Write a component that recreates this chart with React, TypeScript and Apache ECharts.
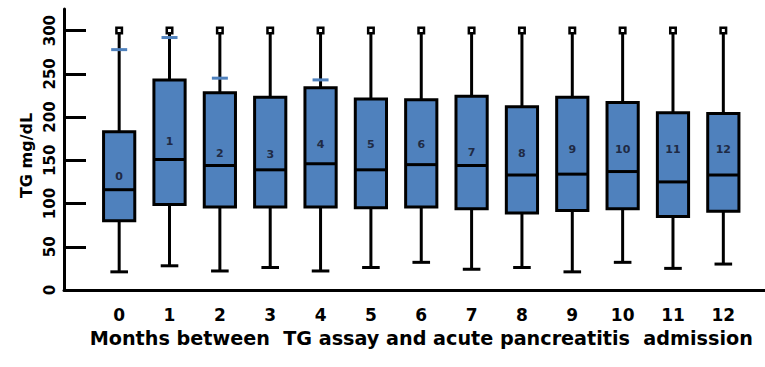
import React, { useEffect, useRef } from "react";
import * as echarts from "echarts";

const categories = ["0", "1", "2", "3", "4", "5", "6", "7", "8", "9", "10", "11", "12"];
const whiskerLow = [21, 28, 22, 26, 22, 26, 32, 24, 26, 21, 32, 25, 30];
const q1 = [80, 99, 96, 96, 96, 95, 96, 94, 89, 92, 94, 85, 91];
const medians = [116, 151, 144, 139, 146, 139, 145, 144, 133, 134, 137, 125, 133];
const q3 = [183, 243, 228, 223, 234, 221, 220, 224, 212, 223, 217, 205, 204];
const outliers = [300, 300, 300, 300, 300, 300, 300, 300, 300, 300, 300, 300, 300];
const blueMarks: (number | null)[] = [278, 292, 245, null, 243, null, null, null, null, null, null, null, null];
const labelLevels = [131, 172, 158, 157, 168, 168, 168, 159, 158, 163, 163, 163, 163];
const yTicks = [0, 50, 100, 150, 200, 250, 300];

const FONT = "'DejaVu Sans', Verdana, sans-serif";
const BLUE = "#4F81BD";
const Y_MAX = 325;

export default function App() {
  const ref = useRef<HTMLDivElement>(null);

  useEffect(() => {
    if (!ref.current) return;
    const chart = echarts.init(ref.current, null, { renderer: "svg" });

    const data = categories.map((_, i) => [
      i,
      whiskerLow[i],
      q1[i],
      medians[i],
      q3[i],
      outliers[i],
      blueMarks[i] == null ? -1 : (blueMarks[i] as number),
      labelLevels[i],
    ]);

    const renderItem = (params: any, api: any) => {
      const x = api.value(0);
      const band = api.size([1, 0])[0];
      const boxW = band * 0.62;
      const capHalf = boxW / 4 + 1;
      const pLow = api.coord([x, api.value(1)]);
      const pQ1 = api.coord([x, api.value(2)]);
      const pMed = api.coord([x, api.value(3)]);
      const pQ3 = api.coord([x, api.value(4)]);
      const pOut = api.coord([x, api.value(5)]);
      const mark = api.value(6);
      const pLab = api.coord([x, api.value(7)]);
      const cx = pQ3[0];
      const sq = 5.5;
      const black = "#000";
      const children: any[] = [
        {
          type: "line",
          shape: { x1: cx, y1: pQ3[1], x2: cx, y2: pOut[1] + sq / 2 },
          style: { stroke: black, lineWidth: 3 },
        },
        {
          type: "line",
          shape: { x1: cx, y1: pQ1[1], x2: cx, y2: pLow[1] },
          style: { stroke: black, lineWidth: 3 },
        },
        {
          type: "line",
          shape: { x1: cx - capHalf, y1: pLow[1], x2: cx + capHalf, y2: pLow[1] },
          style: { stroke: black, lineWidth: 3 },
        },
        {
          type: "rect",
          shape: { x: cx - boxW / 2, y: pQ3[1], width: boxW, height: pQ1[1] - pQ3[1] },
          style: { fill: BLUE, stroke: black, lineWidth: 3 },
        },
        {
          type: "line",
          shape: { x1: cx - boxW / 2, y1: pMed[1], x2: cx + boxW / 2, y2: pMed[1] },
          style: { stroke: black, lineWidth: 3 },
        },
      ];
      if (mark >= 0) {
        const pM = api.coord([x, mark]);
        children.push({
          type: "line",
          shape: { x1: cx - 8, y1: pM[1], x2: cx + 8, y2: pM[1] },
          style: { stroke: BLUE, lineWidth: 3 },
        });
      }
      children.push({
        type: "rect",
        shape: { x: cx - sq / 2, y: pOut[1] - sq / 2, width: sq, height: sq },
        style: { fill: "#fff", stroke: black, lineWidth: 2.5 },
      });
      children.push({
        type: "text",
        x: cx,
        y: pLab[1],
        style: {
          text: categories[params.dataIndex],
          fill: "#1F2A44",
          font: `bold 11px ${FONT}`,
          align: "center",
          verticalAlign: "middle",
        },
      });
      return { type: "group", children };
    };

    chart.setOption({
      animation: false,
      backgroundColor: "#fff",
      grid: [
        { left: 94, right: 16.5, top: 9, bottom: 77 },
        { left: 64, right: 0, top: 9, bottom: 77 },
      ],
      xAxis: [
        {
          type: "category",
          gridIndex: 0,
          data: categories,
          axisLine: { show: false },
          axisTick: { show: false },
          axisLabel: {
            color: "#000",
            fontFamily: FONT,
            fontWeight: "bold",
            fontSize: 17,
            margin: 16,
          },
          name: "Months between  TG assay and acute pancreatitis  admission",
          nameLocation: "middle",
          nameGap: 39,
          nameTextStyle: {
            color: "#000",
            fontFamily: FONT,
            fontWeight: "bold",
            fontSize: 19.2,
          },
        },
        {
          type: "value",
          gridIndex: 1,
          min: 0,
          max: 1,
          axisLine: { show: true, lineStyle: { color: "#000", width: 3 } },
          axisTick: { show: false },
          axisLabel: { show: false },
          splitLine: { show: false },
        },
      ],
      yAxis: [
        {
          type: "value",
          gridIndex: 0,
          min: 0,
          max: Y_MAX,
          show: false,
          splitLine: { show: false },
        },
        {
          type: "value",
          gridIndex: 1,
          min: 0,
          max: Y_MAX,
          interval: 50,
          axisLine: { show: true, lineStyle: { color: "#000", width: 3 } },
          axisTick: {
            show: true,
            inside: true,
            length: 22,
            lineStyle: { color: "#000", width: 3 },
            customValues: yTicks,
          },
          axisLabel: {
            rotate: 90,
            color: "#000",
            fontFamily: FONT,
            fontWeight: "bold",
            fontSize: 15,
            margin: 7,
            customValues: yTicks,
          },
          splitLine: { show: false },
          name: "TG mg/dL",
          nameLocation: "middle",
          nameGap: 27,
          nameRotate: 90,
          nameTextStyle: {
            color: "#000",
            fontFamily: FONT,
            fontWeight: "bold",
            fontSize: 16,
            padding: [0, 12, 0, 0],
          },
        },
      ],
      series: [
        {
          type: "custom",
          xAxisIndex: 0,
          yAxisIndex: 0,
          renderItem,
          encode: { x: 0, y: [1, 2, 3, 4, 5] },
          data,
          clip: false,
        },
      ],
    });

    return () => chart.dispose();
  }, []);

  return (
    <div
      ref={ref}
      style={{ position: "fixed", left: 0, top: 0, width: 765, height: 367 }}
    />
  );
}
